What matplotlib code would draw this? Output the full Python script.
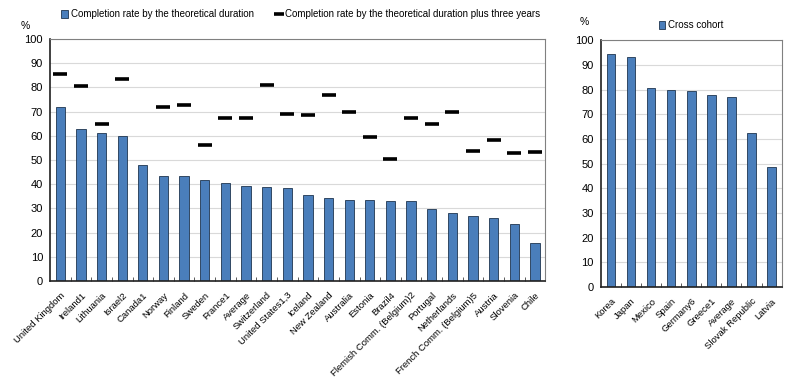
import matplotlib.pyplot as plt
import numpy as np

plt.rcParams['font.family'] = ['Liberation Sans', 'DejaVu Sans']

countries = ['United Kingdom', 'Ireland1', 'Lithuania', 'Israel2', 'Canada1', 'Norway',
             'Finland', 'Sweden', 'France1', 'Average', 'Switzerland', 'United States1,3',
             'Iceland', 'New Zealand', 'Australia', 'Estonia', 'Brazil4',
             'Flemish Comm. (Belgium)2', 'Portugal', 'Netherlands',
             'French Comm. (Belgium)5', 'Austria', 'Slovenia', 'Chile']
theoretical = [71.9, 62.8, 61.1, 60.1, 48.0, 43.6, 43.3, 41.8, 40.7, 39.3, 38.8, 38.5,
               35.4, 34.5, 33.5, 33.5, 33.2, 33.0, 29.7, 28.0, 27.0, 26.1, 23.7, 15.6]
plus_three = [85.4, 80.8, 65.0, 83.3, np.nan, 72.0, 72.8, 56.1, 67.2, 67.2, 81.2, 69.0,
              68.5, 77.0, 70.0, 59.4, 50.5, 67.4, 65.0, 69.8, 53.9, 58.3, 52.7, 53.5]

cohort_countries = ['Korea', 'Japan', 'Mexico', 'Spain', 'Germany6', 'Greece1',
                    'Average', 'Slovak Republic', 'Latvia']
cross_cohort = [94.6, 93.4, 80.8, 80.0, 79.6, 77.7, 77.2, 62.6, 48.5]

bar_color = '#4a7ebb'
edge_color = '#1f3550'
grid_color = '#d9d9d9'
fs = 6.8


def style_axes(ax, labels):
    n = len(labels)
    x = np.arange(n)
    ax.set_xlim(-0.5, n - 0.5)
    ax.set_ylim(0, 100)
    ax.set_yticks(range(0, 101, 10))
    ax.yaxis.grid(True, color=grid_color, linewidth=0.8)
    ax.set_axisbelow(True)
    ax.set_xticks(x)
    ax.set_xticklabels(labels, rotation=45, ha='right', rotation_mode='anchor', fontsize=fs)
    ax.tick_params(axis='x', length=0, pad=7)
    ax.set_xticks(np.arange(n - 1) + 0.5, minor=True)
    ax.tick_params(axis='x', which='minor', length=3, direction='in', color='#404040')
    ax.tick_params(axis='y', labelsize=8, length=0, pad=5)
    for s in ['top', 'right']:
        ax.spines[s].set_color('#808080')
    for s in ['left', 'bottom']:
        ax.spines[s].set_color('#202020')
        ax.spines[s].set_linewidth(1.2)


fig = plt.figure(figsize=(8, 3.81), dpi=100)

ax1 = fig.add_axes([0.0625, 0.2625, 0.619, 0.635])
x = np.arange(len(countries))
b1 = ax1.bar(x, theoretical, width=0.45, color=bar_color, edgecolor=edge_color, linewidth=0.6,
             label='Completion rate by the theoretical duration')
l1, = ax1.plot(x, plus_three, linestyle='none', marker='_', markersize=10, markeredgewidth=2.6,
               color='black', label='Completion rate by the theoretical duration plus three years')
style_axes(ax1, countries)
ax1.legend(handles=[b1, l1], loc='lower left', bbox_to_anchor=(0.015, 1.065), ncol=2,
           frameon=False, fontsize=7.0, handlelength=0.7, handleheight=0.8, handletextpad=0.3,
           columnspacing=2.2, borderaxespad=0, markerscale=0.7)
fig.text(0.026, 0.925, '%', fontsize=7.5)

ax2 = fig.add_axes([0.751, 0.247, 0.226, 0.647])
x2 = np.arange(len(cohort_countries))
ax2.bar(x2, cross_cohort, width=0.43, color=bar_color, edgecolor=edge_color, linewidth=0.6,
        label='Cross cohort')
style_axes(ax2, cohort_countries)
ax2.legend(loc='lower center', bbox_to_anchor=(0.5, 1.025), frameon=False, fontsize=7.0,
           handlelength=0.7, handleheight=0.8, handletextpad=0.3, borderaxespad=0)
fig.text(0.725, 0.935, '%', fontsize=7.5)

fig.savefig('out.png', dpi=100)
